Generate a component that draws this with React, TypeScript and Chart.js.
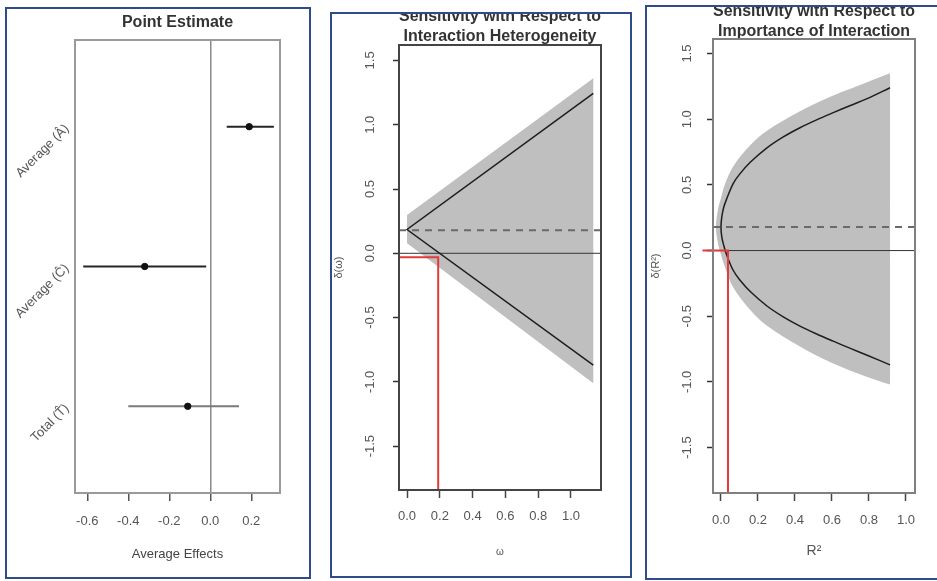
import React, { useEffect, useRef } from 'react';
import { Chart, registerables } from 'chart.js';

Chart.register(...registerables);

const FONT = "'Liberation Sans', Arial, Helvetica, sans-serif";
Chart.defaults.font.family = FONT;

// ---------- Panel 1: point estimates ----------
const effectLabels = ['Average (Â)', 'Average (Ĉ)', 'Total (T̂)'];
const effectRows = [3, 2, 1];
const effectEstimates = [0.19, -0.32, -0.11];
const effectLower = [0.08, -0.62, -0.4];
const effectUpper = [0.31, -0.02, 0.14];
const effectLineColors = ['#262626', '#262626', '#7a7a7a'];
const effectTicks = [-0.6, -0.4, -0.2, 0, 0.2];

// ---------- Panel 2: interaction heterogeneity ----------
const omegaValues = [0, 1.136];
const omegaEstHigh = [0.185, 1.244];
const omegaEstLow = [0.185, -0.869];
const omegaBandHigh = [0.298, 1.361];
const omegaBandLow = [0.078, -1.011];
const omegaCritical = 0.19;
const omegaCriticalY = -0.03;

// ---------- Panel 3: importance of interaction ----------
const r2Values = [0, 0.005, 0.015, 0.03, 0.066, 0.1, 0.157, 0.247, 0.337, 0.427, 0.517, 0.607, 0.7, 0.787, 0.914];
const r2EstHigh = [0.18, 0.26, 0.33, 0.39, 0.51, 0.58, 0.67, 0.78, 0.865, 0.935, 0.995, 1.05, 1.105, 1.155, 1.24];
const r2EstLow = [0.18, 0.1, 0.04, -0.03, -0.15, -0.22, -0.31, -0.42, -0.505, -0.575, -0.635, -0.69, -0.745, -0.795, -0.87];
const r2BandValues = [-0.027, -0.015, 0, 0.02, 0.066, 0.157, 0.247, 0.427, 0.607, 0.787, 0.914];
const r2BandHigh = [0.18, 0.32, 0.4, 0.5, 0.64, 0.8, 0.91, 1.06, 1.18, 1.28, 1.35];
const r2BandLow = [0.18, 0.05, -0.03, -0.12, -0.28, -0.45, -0.57, -0.73, -0.86, -0.96, -1.02];
const r2Critical = 0.038;
const r2CriticalY = 0;

const pointEstimate = 0.18;
const sensXTicks = [0, 0.2, 0.4, 0.6, 0.8, 1.0];
const sensYTicks = [-1.5, -1, -0.5, 0, 0.5, 1, 1.5];

const FRAME = '#2f4b8b';
const PAGE_H = 581;

type Pt = { x: number; y: number };
const zip = (xs: number[], ys: number[]): Pt[] => xs.map((x, i) => ({ x, y: ys[i] }));

const boxPlugin = {
  id: 'plotBox',
  afterDatasetsDraw(chart: any, _args: any, opts: any) {
    const { ctx, chartArea: a } = chart;
    ctx.save();
    ctx.strokeStyle = opts.color || '#555';
    ctx.lineWidth = opts.width || 1;
    ctx.strokeRect(a.left, a.top, a.right - a.left, a.bottom - a.top);
    ctx.restore();
  },
};

const fixAxis = (size: number, horizontal: boolean) => (s: any) => {
  if (horizontal) s.height = size;
  else s.width = size;
  s.paddingLeft = 0;
  s.paddingRight = 0;
  s.paddingTop = 0;
  s.paddingBottom = 0;
};

const fmt1 = (v: any) => Number(v).toFixed(1);

function pointConfig(): any {
  return {
    type: 'scatter',
    data: {
      datasets: [
        ...effectRows.map((row, i) => ({
          data: [
            { x: effectLower[i], y: row },
            { x: effectUpper[i], y: row },
          ],
          showLine: true,
          borderColor: effectLineColors[i],
          borderWidth: 2,
          pointRadius: 0,
          order: 2,
        })),
        {
          data: effectRows.map((row, i) => ({ x: effectEstimates[i], y: row })),
          showLine: false,
          pointRadius: 3.2,
          pointBackgroundColor: '#111',
          pointBorderColor: '#111',
          order: 1,
        },
      ],
    },
    options: {
      animation: false,
      responsive: false,
      layout: { padding: { left: 0, right: 29, top: 0, bottom: 0 } },
      plugins: {
        legend: { display: false },
        tooltip: { enabled: false },
        title: {
          display: true,
          text: 'Point Estimate',
          fullSize: false,
          color: '#333',
          font: { family: FONT, size: 16, weight: 'bold', lineHeight: '20px' },
          padding: { top: 13, bottom: 7 },
        },
        plotBox: { color: '#9a9a9a', width: 2 },
      },
      scales: {
        x: {
          type: 'linear',
          min: -0.66,
          max: 0.34,
          afterBuildTicks: (s: any) => {
            s.ticks = effectTicks.map((v) => ({ value: v }));
          },
          afterFit: fixAxis(88, true),
          grid: {
            drawOnChartArea: true,
            color: (c: any) => (c.tick && c.tick.value === 0 ? '#8a8a8a' : 'rgba(0,0,0,0)'),
            lineWidth: 1.5,
            drawTicks: true,
            tickLength: 8,
            tickColor: '#555',
            tickWidth: 1.5,
          },
          border: { display: false },
          ticks: {
            padding: 13,
            color: '#555',
            font: { size: 13 },
            callback: fmt1,
            minRotation: 0,
            maxRotation: 0,
            autoSkip: false,
          },
          title: {
            display: true,
            text: 'Average Effects',
            color: '#444',
            font: { size: 13 },
            padding: { top: 0, bottom: 19 },
          },
        },
        y: {
          type: 'linear',
          min: 0.38,
          max: 3.62,
          afterBuildTicks: (s: any) => {
            s.ticks = effectRows.map((v) => ({ value: v }));
          },
          afterFit: fixAxis(68, false),
          grid: { display: false, drawTicks: false },
          border: { display: false },
          ticks: {
            padding: 8,
            color: '#555',
            font: { size: 13 },
            minRotation: 45,
            maxRotation: 45,
            autoSkip: false,
            callback: (v: any) => effectLabels[effectRows.indexOf(Number(v))],
          },
        },
      },
    },
    plugins: [boxPlugin],
  };
}

interface SensParams {
  title: string[];
  titlePad: { top: number; bottom: number };
  xMin: number;
  xMax: number;
  yMin: number;
  yMax: number;
  xTitle: string;
  xTitleSize: number;
  xTitlePad: number;
  yTitle: string;
  yTitlePad: number;
  yTickPad: number;
  xTickPad: number;
  yAxisW: number;
  xAxisH: number;
  padRight: number;
  band: Pt[];
  est: Pt[];
  red: Pt[];
  redClip: boolean;
  tension: number;
  boxColor: string;
}

function sensitivityConfig(p: SensParams): any {
  const redSet: any = {
    data: p.red,
    showLine: true,
    borderColor: '#e23b3b',
    borderWidth: 2,
    pointRadius: 0,
    order: 0,
  };
  if (!p.redClip) redSet.clip = false;
  return {
    type: 'scatter',
    data: {
      datasets: [
        {
          data: p.est,
          showLine: true,
          borderColor: '#1e1e1e',
          borderWidth: 1.5,
          pointRadius: 0,
          tension: p.tension,
          order: 1,
        },
        {
          data: [
            { x: p.xMin, y: 0 },
            { x: p.xMax, y: 0 },
          ],
          showLine: true,
          borderColor: '#333',
          borderWidth: 1,
          pointRadius: 0,
          order: 3,
        },
        {
          data: [
            { x: p.xMin, y: pointEstimate },
            { x: p.xMax, y: pointEstimate },
          ],
          showLine: true,
          borderColor: '#6a6a6a',
          borderWidth: 2,
          borderDash: [7, 6],
          pointRadius: 0,
          order: 2,
        },
        redSet,
        {
          data: p.band,
          showLine: true,
          fill: 'shape',
          backgroundColor: '#bfbfbf',
          borderColor: 'rgba(0,0,0,0)',
          borderWidth: 0,
          pointRadius: 0,
          tension: p.tension,
          order: 9,
        },
      ],
    },
    options: {
      animation: false,
      responsive: false,
      layout: { padding: { left: 0, right: p.padRight, top: 0, bottom: 0 } },
      plugins: {
        legend: { display: false },
        tooltip: { enabled: false },
        title: {
          display: true,
          text: p.title,
          fullSize: false,
          color: '#333',
          font: { family: FONT, size: 16, weight: 'bold', lineHeight: '20px' },
          padding: p.titlePad,
        },
        plotBox: { color: p.boxColor, width: 2 },
      },
      scales: {
        x: {
          type: 'linear',
          min: p.xMin,
          max: p.xMax,
          afterBuildTicks: (s: any) => {
            s.ticks = sensXTicks.map((v) => ({ value: v }));
          },
          afterFit: fixAxis(p.xAxisH, true),
          grid: {
            drawOnChartArea: false,
            drawTicks: true,
            tickLength: 8,
            tickColor: '#444',
            tickWidth: 1.5,
          },
          border: { display: false },
          ticks: {
            padding: p.xTickPad,
            color: '#555',
            font: { size: 13 },
            callback: fmt1,
            minRotation: 0,
            maxRotation: 0,
            autoSkip: false,
          },
          title: {
            display: true,
            text: p.xTitle,
            color: '#555',
            font: { size: p.xTitleSize },
            padding: { top: 0, bottom: p.xTitlePad },
          },
        },
        y: {
          type: 'linear',
          min: p.yMin,
          max: p.yMax,
          afterBuildTicks: (s: any) => {
            s.ticks = sensYTicks.map((v) => ({ value: v }));
          },
          afterFit: fixAxis(p.yAxisW, false),
          grid: {
            drawOnChartArea: false,
            drawTicks: true,
            tickLength: 6,
            tickColor: '#333',
            tickWidth: 1.5,
          },
          border: { display: false },
          ticks: {
            padding: p.yTickPad,
            color: '#555',
            font: { size: 13 },
            minRotation: 90,
            maxRotation: 90,
            crossAlign: 'center',
            autoSkip: false,
            callback: fmt1,
          },
          title: {
            display: true,
            text: p.yTitle,
            color: '#555',
            font: { size: 11 },
            padding: { top: p.yTitlePad, bottom: 0 },
          },
        },
      },
    },
    plugins: [boxPlugin],
  };
}

function heterogeneityConfig(): any {
  const xMin = -0.049;
  const yMin = -1.841;
  const est = [
    ...zip(omegaValues, omegaEstHigh).reverse(),
    ...zip(omegaValues, omegaEstLow).slice(1),
  ];
  const band = [...zip(omegaValues, omegaBandHigh), ...zip(omegaValues, omegaBandLow).reverse()];
  return sensitivityConfig({
    title: ['Sensitivity with Respect to', 'Interaction Heterogeneity'],
    titlePad: { top: 7, bottom: -2 },
    xMin,
    xMax: 1.183,
    yMin,
    yMax: 1.62,
    xTitle: 'ω',
    xTitleSize: 10,
    xTitlePad: 23,
    yTitle: 'δ(ω)',
    yTitlePad: 0.4,
    yTickPad: 11,
    xTickPad: 11,
    yAxisW: 67,
    xAxisH: 91,
    padRight: 29,
    band,
    est,
    red: [
      { x: xMin, y: omegaCriticalY },
      { x: omegaCritical, y: omegaCriticalY },
      { x: omegaCritical, y: yMin },
    ],
    redClip: true,
    tension: 0,
    boxColor: '#444',
  });
}

function importanceConfig(): any {
  const yMin = -1.846;
  const est = [...zip(r2Values, r2EstHigh).reverse(), ...zip(r2Values, r2EstLow).slice(1)];
  const band = [...zip(r2BandValues, r2BandHigh).reverse(), ...zip(r2BandValues, r2BandLow).slice(1)];
  return sensitivityConfig({
    title: ['Sensitivity with Respect to', 'Importance of Interaction'],
    titlePad: { top: 2, bottom: -3 },
    xMin: -0.043,
    xMax: 1.049,
    yMin,
    yMax: 1.611,
    xTitle: 'R²',
    xTitleSize: 14,
    xTitlePad: 21,
    yTitle: 'δ(R²)',
    yTitlePad: 2.4,
    yTickPad: 8,
    xTickPad: 12,
    yAxisW: 66,
    xAxisH: 88,
    padRight: 28,
    band,
    est,
    red: [
      { x: -0.1, y: r2CriticalY },
      { x: r2Critical, y: r2CriticalY },
      { x: r2Critical, y: yMin },
    ],
    redClip: false,
    tension: 0.35,
    boxColor: '#808080',
  });
}

interface Geom {
  l: number;
  t: number;
  w: number;
  h: number;
}

function Panel({ geom, makeConfig }: { geom: Geom; makeConfig: () => any }) {
  const ref = useRef<HTMLCanvasElement>(null);
  useEffect(() => {
    const chart = new Chart(ref.current as HTMLCanvasElement, makeConfig());
    return () => chart.destroy();
  }, []);
  const cw = geom.w - 4;
  return (
    <div
      style={{
        position: 'absolute',
        left: geom.l,
        top: geom.t,
        width: geom.w,
        height: geom.h,
        border: `2px solid ${FRAME}`,
        boxSizing: 'border-box',
        overflow: 'hidden',
        background: '#fff',
      }}
    >
      <canvas
        ref={ref}
        width={cw}
        height={PAGE_H}
        style={{ position: 'absolute', left: 0, top: -(geom.t + 2), width: cw, height: PAGE_H, display: 'block' }}
      />
    </div>
  );
}

export default function App() {
  return (
    <div
      style={{
        position: 'absolute',
        left: 0,
        top: 0,
        width: 937,
        height: PAGE_H,
        overflow: 'hidden',
        background: '#fff',
      }}
    >
      <Panel geom={{ l: 5, t: 7, w: 306, h: 572 }} makeConfig={pointConfig} />
      <Panel geom={{ l: 330, t: 12, w: 302, h: 566 }} makeConfig={heterogeneityConfig} />
      <Panel geom={{ l: 645, t: 5, w: 300, h: 575 }} makeConfig={importanceConfig} />
    </div>
  );
}
